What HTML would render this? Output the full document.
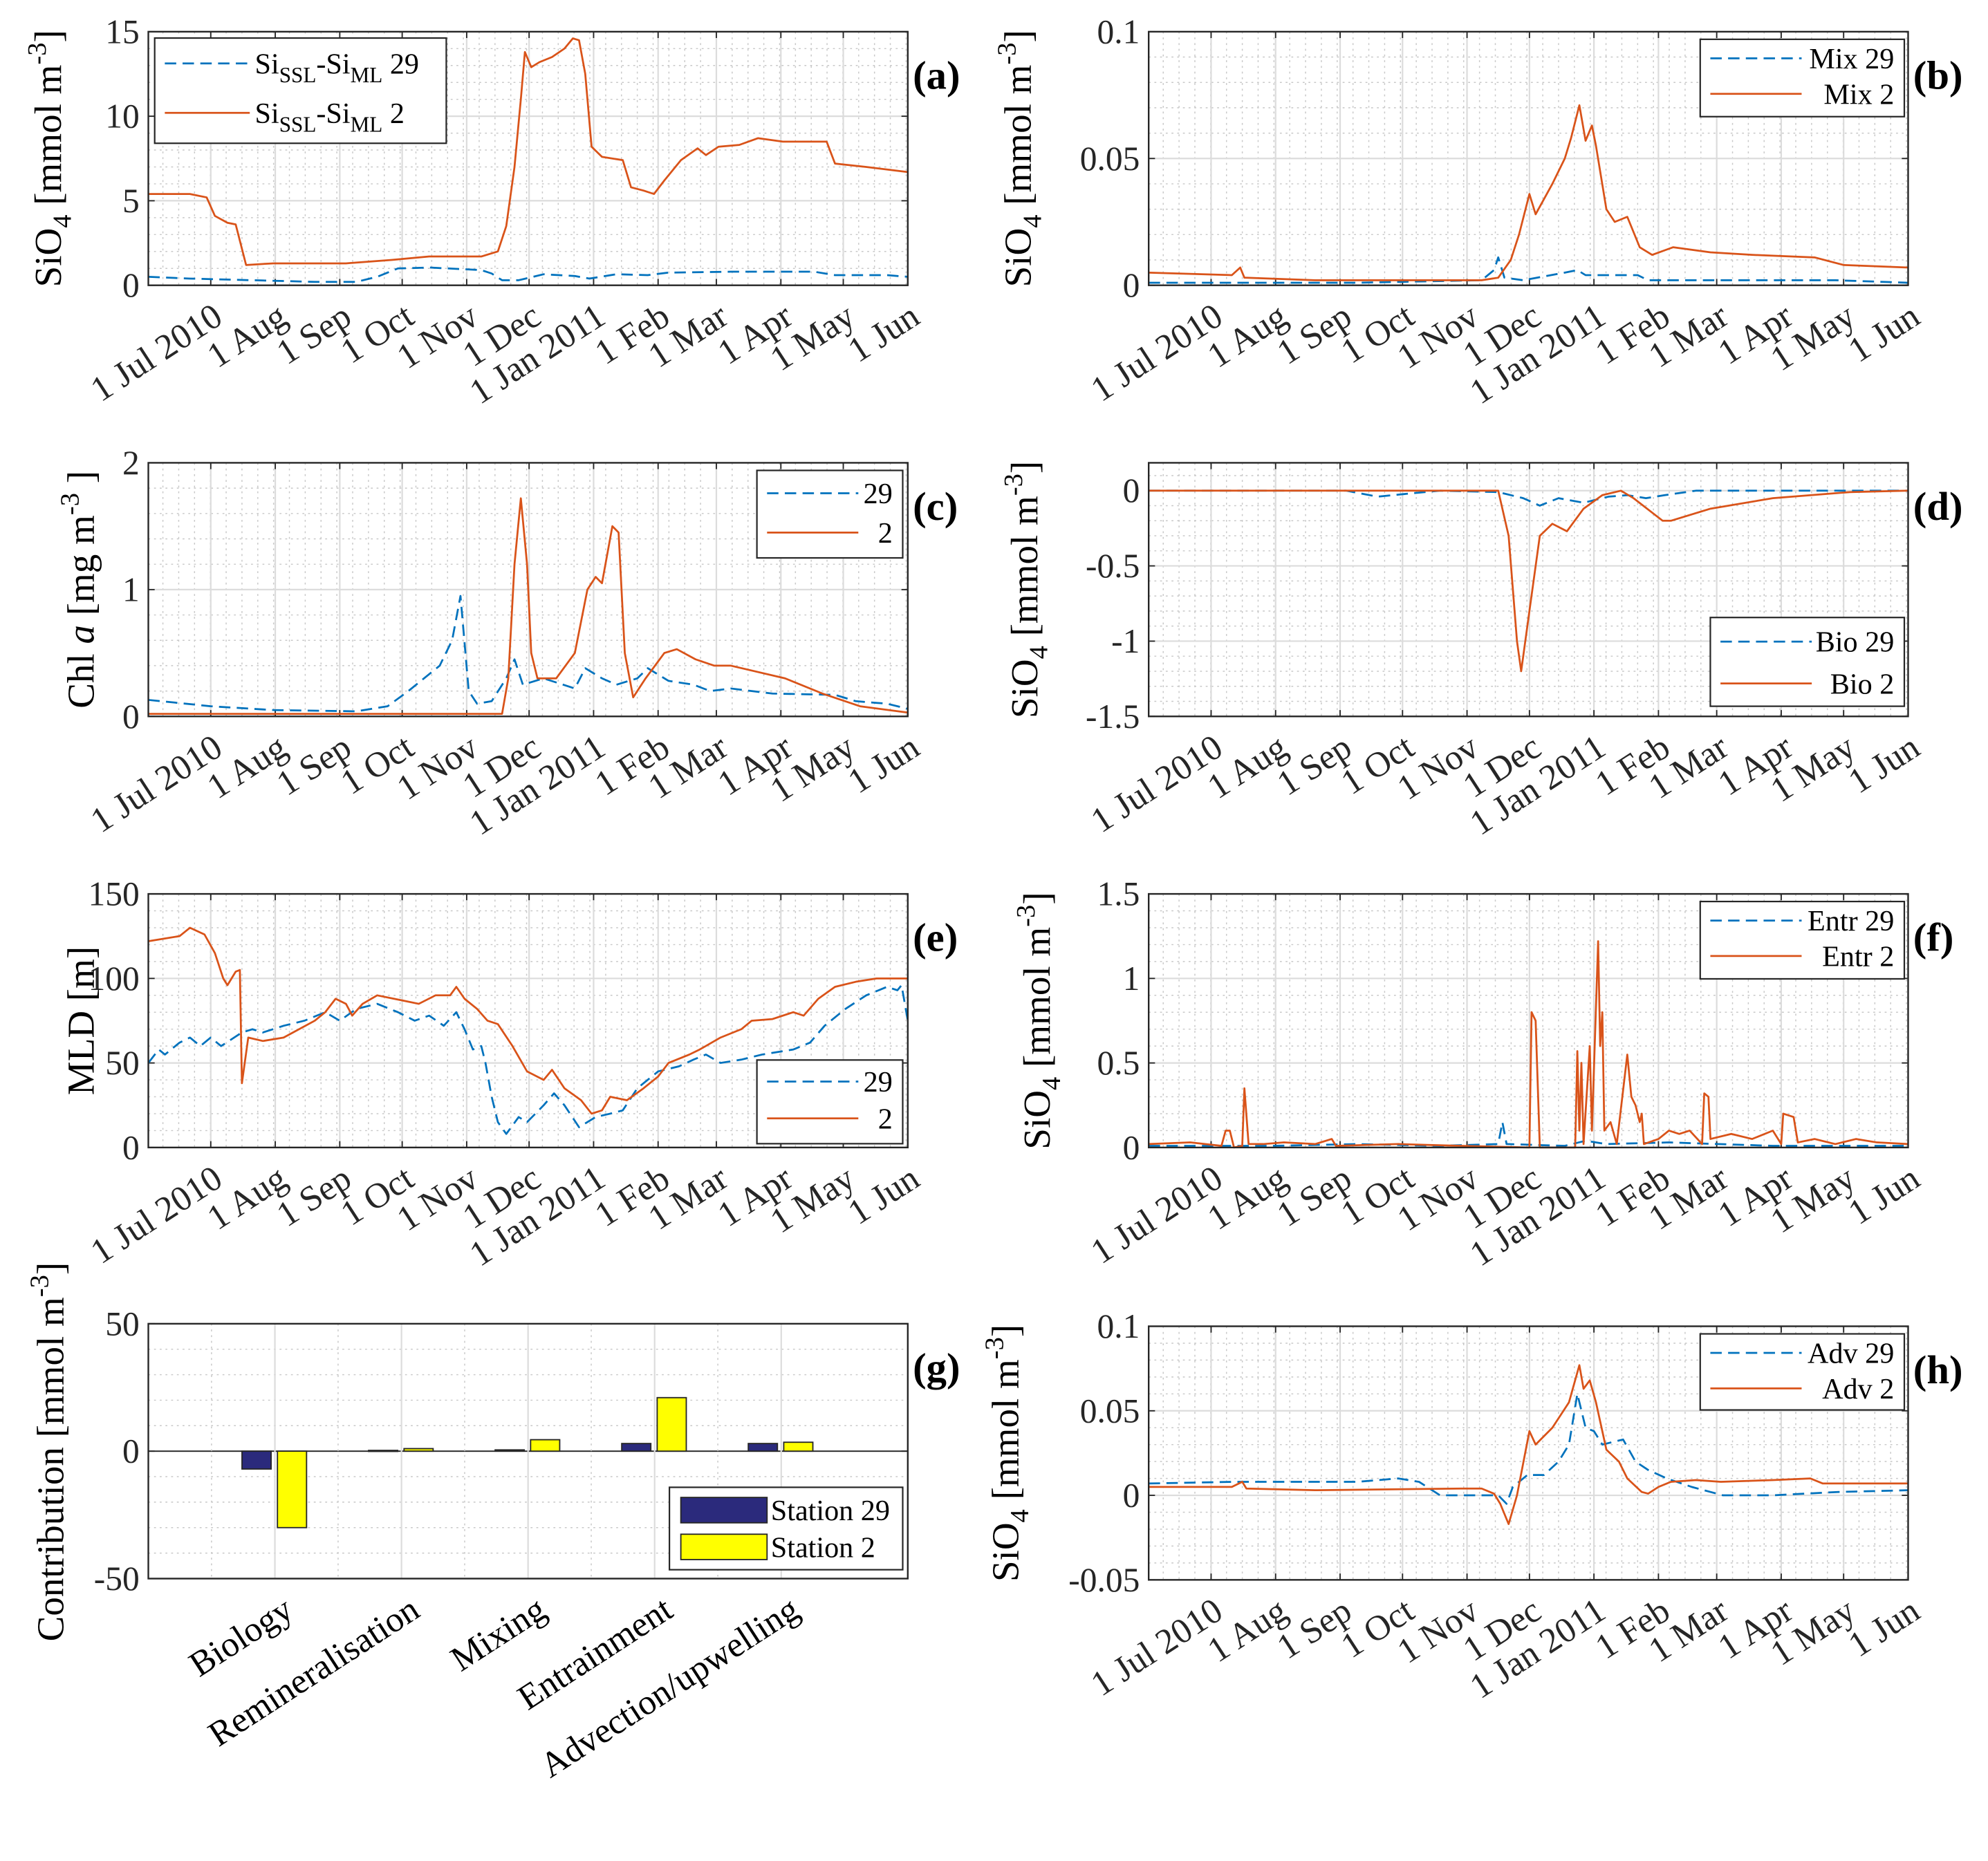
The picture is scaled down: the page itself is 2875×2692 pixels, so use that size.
<!DOCTYPE html>
<html><head><meta charset="utf-8"><style>
html,body{margin:0;padding:0;background:#fff;}
svg, svg text{font-family:"Liberation Serif","DejaVu Serif","Times New Roman",serif;}
</style></head><body>
<svg id="fig" width="2875" height="2687" viewBox="0 0 1568 1465" preserveAspectRatio="none" xmlns="http://www.w3.org/2000/svg"></svg>
<script>
// ---- data ----
const monthTickDays = [30,61,92,122,153,183,214,245,273,304,334,365];
const monthTickLabels = ["1 Jul 2010","1 Aug","1 Sep","1 Oct","1 Nov","1 Dec","1 Jan 2011","1 Feb","1 Mar","1 Apr","1 May","1 Jun"];

const siA29 = [[0,0.5],[20,0.4],[50,0.3],[80,0.2],[100,0.2],[110,0.5],[120,1.0],[135,1.05],[160,0.9],[165,0.7],[170,0.3],[178,0.3],[190,0.65],[205,0.55],[212,0.4],[225,0.65],[240,0.6],[250,0.75],[280,0.8],[320,0.8],[330,0.6],[355,0.6],[365,0.5]];
const siA2 = [[0,5.4],[20,5.4],[28,5.2],[32,4.1],[38,3.7],[42,3.6],[47,1.2],[60,1.3],[80,1.3],[95,1.3],[117,1.5],[135,1.7],[160,1.7],[168,2.0],[172,3.5],[176,7],[179,11],[181,13.8],[184,12.9],[188,13.2],[194,13.5],[200,14.0],[204,14.6],[207,14.5],[210,12.5],[213,8.2],[218,7.6],[228,7.4],[232,5.8],[238,5.6],[243,5.4],[248,6.2],[256,7.4],[264,8.1],[268,7.7],[274,8.2],[284,8.3],[293,8.7],[305,8.5],[326,8.5],[330,7.2],[345,7.0],[365,6.7]];

const mix29 = [[0,0.001],[100,0.001],[160,0.002],[166,0.006],[168,0.011],[171,0.003],[180,0.002],[200,0.005],[206,0.006],[210,0.004],[235,0.004],[240,0.002],[330,0.002],[365,0.001]];
const mix2 = [[0,0.005],[40,0.004],[44,0.007],[46,0.003],[80,0.002],[160,0.002],[168,0.003],[174,0.01],[178,0.02],[183,0.036],[186,0.028],[194,0.04],[200,0.05],[203,0.058],[207,0.071],[210,0.057],[213,0.063],[215,0.055],[220,0.03],[224,0.025],[230,0.027],[236,0.015],[242,0.012],[252,0.015],[270,0.013],[290,0.012],[320,0.011],[334,0.008],[365,0.007]];

const chl29 = [[0,0.13],[30,0.08],[60,0.05],[100,0.04],[115,0.08],[125,0.2],[140,0.4],[146,0.6],[150,0.95],[154,0.2],[158,0.1],[165,0.12],[172,0.3],[176,0.45],[180,0.25],[190,0.3],[205,0.22],[210,0.38],[218,0.3],[225,0.25],[235,0.3],[240,0.38],[250,0.28],[262,0.25],[270,0.2],[280,0.22],[300,0.18],[330,0.17],[340,0.12],[355,0.1],[365,0.06]];
const chl2 = [[0,0.02],[170,0.02],[173,0.3],[176,1.2],[179,1.72],[182,1.2],[184,0.5],[187,0.3],[196,0.3],[205,0.5],[211,1.0],[215,1.1],[218,1.05],[223,1.5],[226,1.45],[229,0.5],[233,0.15],[239,0.3],[248,0.5],[254,0.53],[263,0.45],[272,0.4],[280,0.4],[293,0.35],[306,0.3],[324,0.18],[342,0.08],[365,0.03]];

const bio29 = [[0,0],[95,0],[110,-0.04],[125,-0.02],[140,0],[168,-0.01],[180,-0.05],[188,-0.1],[197,-0.05],[209,-0.08],[221,-0.04],[230,-0.03],[239,-0.05],[248,-0.03],[263,0],[365,0]];
const bio2 = [[0,0],[168,0],[173,-0.3],[177,-1.0],[179,-1.2],[183,-0.8],[188,-0.3],[194,-0.22],[201,-0.27],[209,-0.12],[218,-0.03],[227,0],[233,-0.05],[247,-0.2],[251,-0.2],[270,-0.12],[300,-0.05],[337,-0.01],[365,0]];

const mld29 = [[0,50],[5,58],[8,55],[15,62],[20,65],[25,60],[30,65],[35,60],[45,68],[50,70],[55,68],[65,72],[75,75],[85,80],[92,75],[100,82],[110,85],[120,80],[128,75],[135,78],[142,72],[148,80],[152,70],[156,58],[160,60],[162,50],[165,30],[168,15],[172,8],[178,18],[182,15],[190,25],[195,32],[200,25],[207,12],[215,18],[222,20],[228,22],[235,35],[245,45],[255,48],[262,52],[268,55],[275,50],[285,52],[295,55],[310,58],[318,62],[325,72],[335,82],[345,90],[355,95],[360,93],[362,96],[365,75]];
const mld2 = [[0,122],[15,125],[20,130],[27,126],[32,115],[36,100],[38,96],[42,104],[44,105],[45,38],[48,65],[55,63],[65,65],[80,75],[85,80],[90,88],[95,85],[98,78],[103,85],[110,90],[122,87],[130,85],[138,90],[145,90],[148,95],[152,88],[158,82],[163,75],[168,73],[175,60],[182,45],[190,40],[194,46],[200,35],[208,28],[213,20],[218,22],[222,30],[230,28],[238,35],[245,42],[250,50],[260,55],[265,58],[275,65],[285,70],[290,75],[300,76],[310,80],[315,78],[322,88],[330,95],[340,98],[350,100],[365,100]];

const entr29 = [[0,0.01],[60,0.01],[100,0.02],[140,0.01],[168,0.02],[170,0.15],[172,0.02],[200,0.01],[210,0.04],[220,0.02],[250,0.03],[300,0.01],[365,0.01]];
const entr2 = [[0,0.02],[20,0.03],[35,0.01],[37,0.1],[39,0.1],[41,0],[45,0.01],[46,0.35],[48,0.02],[55,0.02],[65,0.03],[80,0.02],[88,0.05],[90,0.01],[120,0.02],[150,0.01],[183,0],[184,0.8],[186,0.75],[188,0],[205,0],[206,0.57],[207,0.1],[208,0.5],[209,0.02],[212,0.6],[213,0.1],[216,1.22],[217,0.6],[218,0.8],[219,0.1],[222,0.15],[225,0.02],[230,0.55],[232,0.3],[234,0.25],[236,0.15],[237,0.2],[238,0.02],[245,0.05],[250,0.1],[255,0.08],[260,0.1],[266,0.02],[267,0.32],[269,0.3],[270,0.05],[280,0.08],[290,0.05],[300,0.1],[304,0.02],[305,0.2],[310,0.18],[312,0.03],[320,0.05],[330,0.02],[340,0.05],[350,0.03],[365,0.02]];

const adv29 = [[0,0.007],[40,0.008],[100,0.008],[120,0.01],[130,0.008],[140,0],[168,0],[172,-0.005],[175,0.005],[182,0.012],[190,0.012],[197,0.02],[202,0.03],[206,0.06],[210,0.04],[214,0.038],[218,0.03],[228,0.033],[234,0.02],[240,0.015],[249,0.01],[261,0.005],[276,0],[300,0],[331,0.002],[365,0.003]];
const adv2 = [[0,0.005],[40,0.005],[45,0.008],[47,0.004],[80,0.003],[150,0.004],[160,0.004],[166,0.001],[169,-0.005],[173,-0.017],[177,0],[183,0.038],[186,0.03],[194,0.04],[202,0.055],[207,0.077],[209,0.063],[212,0.068],[215,0.055],[220,0.027],[226,0.02],[230,0.01],[237,0.002],[240,0.001],[245,0.005],[251,0.008],[263,0.009],[275,0.008],[300,0.009],[318,0.01],[324,0.007],[365,0.007]];

const barCategories = ["Biology","Remineralisation","Mixing","Entrainment","Advection/upwelling"];
const barStation29 = [-7,0.3,0.5,3,3];
const barStation2 = [-30,1,4.5,21,3.5];

// ---- drawing ----
const svg = document.getElementById('fig');
const NS = 'http://www.w3.org/2000/svg';
const BLUE = '#0072BD', ORANGE = '#D95319';
function mk(tag, attrs, parent){ const e=document.createElementNS(NS,tag); for(const k in attrs) e.setAttribute(k,attrs[k]); (parent||svg).appendChild(e); return e; }

function yLabel(g, x, yc, parts){
  const t = mk('text',{x:x,y:yc,'font-size':30,'text-anchor':'middle',transform:`rotate(-90 ${x} ${yc})`},g);
  
  
  parts.forEach(p=>{ const s=mk('tspan',p.a||{},t); s.textContent=p.t; });
  return t;
}
const siLabel = [{t:'SiO'},{t:'4',a:{'font-size':21,dy:8}},{t:' [mmol m',a:{dy:-8}},{t:'-3',a:{'font-size':21,dy:-12}},{t:']',a:{dy:12}}];

function panel(o){
  const g = mk('g',{});
  
  
  const {x0,x1,y0,y1,ymin,ymax} = o;
  const sx = d => x0 + (d - (o.xmin||0)) / ((o.xmax||365) - (o.xmin||0)) * (x1-x0);
  const sy = v => y1 - (v-ymin)/(ymax-ymin)*(y1-y0);
  mk('rect',{x:x0,y:y0,width:x1-x0,height:y1-y0,fill:'#fff'},g);
  if(o.time){
    for(let d=7; d<365; d+=7.6){ mk('line',{x1:sx(d),x2:sx(d),y1:y0,y2:y1,stroke:'#c8c8c8','stroke-width':0.8,'stroke-dasharray':'1.5 3'},g); }
  }
  for(let v=ymin; v<=ymax+1e-9; v+=o.ymin_step){ mk('line',{x1:x0,x2:x1,y1:sy(v),y2:sy(v),stroke:'#c8c8c8','stroke-width':0.8,'stroke-dasharray':'1.5 3'},g); }
  o.yticks.forEach((v,i)=>{
    const y=sy(v);
    mk('line',{x1:x0,x2:x1,y1:y,y2:y,stroke:'#dcdcdc','stroke-width':1.2},g);
    mk('line',{x1:x0,x2:x0+5,y1:y,y2:y,stroke:'#262626','stroke-width':1},g);
    mk('line',{x1:x1-5,x2:x1,y1:y,y2:y,stroke:'#262626','stroke-width':1},g);
    const t=mk('text',{x:x0-7,y:y+9,'font-size':27,'text-anchor':'end',fill:'#262626'},g);
    
    
    t.textContent=o.ytickLabels[i];
  });
  if(o.time){
    monthTickDays.forEach((d,i)=>{
      const x=sx(d);
      mk('line',{x1:x,x2:x,y1:y0,y2:y1,stroke:'#dcdcdc','stroke-width':1.2},g);
      mk('line',{x1:x,x2:x,y1:y1,y2:y1-5,stroke:'#262626','stroke-width':1},g);
      mk('line',{x1:x,x2:x,y1:y0,y2:y0+5,stroke:'#262626','stroke-width':1},g);
      const tx=x+11, ty=y1+29;
      const t=mk('text',{x:tx,y:ty,'font-size':28,'text-anchor':'end',fill:'#262626',transform:`rotate(-33 ${tx} ${ty})`},g);
      
      
      t.textContent=monthTickLabels[i];
    });
  }
  if(o.zeroLine){ mk('line',{x1:x0,x2:x1,y1:sy(0),y2:sy(0),stroke:'#262626','stroke-width':1},g); }
  (o.series||[]).forEach(s=>{
    const pts=s.data.map(p=>sx(p[0]).toFixed(1)+','+sy(p[1]).toFixed(1)).join(' ');
    const pl=mk('polyline',{points:pts,fill:'none',stroke:s.color,'stroke-width':1.5,'stroke-dasharray':s.dash?'9 5':'none','stroke-linejoin':'round'},g);
    
    
  });
  if(o.bars) o.bars(g,sx,sy);
  mk('rect',{x:x0,y:y0,width:x1-x0,height:y1-y0,fill:'none',stroke:'#262626','stroke-width':1.3},g);
  const pl=mk('text',{x:x1+4,y:y0+45,'font-size':32,'font-weight':'bold'},g);
  
  
  pl.textContent=o.letter;
  if(o.legend){
    const L=o.legend;
    const lg=mk('g',{},g);
    
    
    mk('rect',{x:L.x,y:L.y,width:L.w,height:L.h,fill:'#fff',stroke:'#262626','stroke-width':1.2},lg);
    L.items.forEach((it,i)=>{
      const yy=L.y+L.row0+i*L.dy;
      if(it.swatch){
        mk('rect',{x:L.x+9,y:yy-10,width:68,height:20,fill:it.swatch,stroke:'#262626','stroke-width':1},lg);
      } else {
        mk('line',{x1:L.x+8,x2:L.x+L.lineW,y1:yy,y2:yy,stroke:it.color,'stroke-width':1.5,'stroke-dasharray':it.dash?'9 5':'none'},lg);
      }
      const t=mk('text',{x:it.anchorEnd?L.x+L.w-8:L.x+L.lineW+4,y:yy+8,'font-size':23,'text-anchor':it.anchorEnd?'end':'start'},lg);
      
      
      (it.parts||[{t:it.text}]).forEach(p=>{const s=mk('tspan',p.a||{},t); s.textContent=p.t;});
    });
  }
  return {g,sx,sy};
}

const pa = panel({name:'panel-a',letter:'(a)',time:true,x0:117,x1:716,y0:25,y1:225,ymin:0,ymax:15,ymin_step:1,yticks:[0,5,10,15],ytickLabels:['0','5','10','15'],
  series:[{name:'line-si-29',data:siA29,color:BLUE,dash:true},{name:'line-si-2',data:siA2,color:ORANGE}],
  legend:{x:122,y:30,w:230,h:83,row0:20,dy:39,lineW:75,items:[
    {color:BLUE,dash:true,parts:[{t:'Si'},{t:'SSL',a:{'font-size':17,dy:7}},{t:'-Si',a:{dy:-7}},{t:'ML',a:{'font-size':17,dy:7}},{t:' 29',a:{dy:-7}}]},
    {color:ORANGE,parts:[{t:'Si'},{t:'SSL',a:{'font-size':17,dy:7}},{t:'-Si',a:{dy:-7}},{t:'ML',a:{'font-size':17,dy:7}},{t:' 2',a:{dy:-7}}]}]}});
yLabel(pa.g,48,125,siLabel);

const pb = panel({name:'panel-b',letter:'(b)',time:true,x0:906,x1:1505,y0:25,y1:225,ymin:0,ymax:0.1,ymin_step:0.01,yticks:[0,0.05,0.1],ytickLabels:['0','0.05','0.1'],
  series:[{name:'line-mix-29',data:mix29,color:BLUE,dash:true},{name:'line-mix-2',data:mix2,color:ORANGE}],
  legend:{x:1341,y:31,w:161,h:61,row0:15,dy:28,lineW:80,items:[{color:BLUE,dash:true,text:'Mix 29',anchorEnd:true},{color:ORANGE,text:'Mix 2',anchorEnd:true}]}});
yLabel(pb.g,813,125,siLabel);

const pc = panel({name:'panel-c',letter:'(c)',time:true,x0:117,x1:716,y0:365,y1:565,ymin:0,ymax:2,ymin_step:0.2,yticks:[0,1,2],ytickLabels:['0','1','2'],
  series:[{name:'line-chl-29',data:chl29,color:BLUE,dash:true},{name:'line-chl-2',data:chl2,color:ORANGE}],
  legend:{x:597,y:371,w:115,h:69,row0:18,dy:31,lineW:80,items:[{color:BLUE,dash:true,text:'29',anchorEnd:true},{color:ORANGE,text:'2',anchorEnd:true}]}});
yLabel(pc.g,74,465,[{t:'Chl '},{t:'a',a:{'font-style':'italic'}},{t:' [mg m'},{t:'-3',a:{'font-size':21,dy:-12}},{t:' ]',a:{dy:12}}]);

const pd = panel({name:'panel-d',letter:'(d)',time:true,x0:906,x1:1505,y0:365,y1:565,ymin:-1.5,ymax:0.185,ymin_step:0.1,yticks:[-1.5,-1,-0.5,0],ytickLabels:['-1.5','-1','-0.5','0'],
  series:[{name:'line-bio-29',data:bio29,color:BLUE,dash:true},{name:'line-bio-2',data:bio2,color:ORANGE}],
  legend:{x:1349,y:487,w:153,h:70,row0:19,dy:33,lineW:80,items:[{color:BLUE,dash:true,text:'Bio 29',anchorEnd:true},{color:ORANGE,text:'Bio 2',anchorEnd:true}]}});
yLabel(pd.g,818,465,siLabel);

const pe = panel({name:'panel-e',letter:'(e)',time:true,x0:117,x1:716,y0:705,y1:905,ymin:0,ymax:150,ymin_step:10,yticks:[0,50,100,150],ytickLabels:['0','50','100','150'],
  series:[{name:'line-mld-29',data:mld29,color:BLUE,dash:true},{name:'line-mld-2',data:mld2,color:ORANGE}],
  legend:{x:597,y:836,w:115,h:66,row0:17,dy:29,lineW:80,items:[{color:BLUE,dash:true,text:'29',anchorEnd:true},{color:ORANGE,text:'2',anchorEnd:true}]}});
yLabel(pe.g,74,805,[{t:'MLD [m]'}]);

const pf = panel({name:'panel-f',letter:'(f)',time:true,x0:906,x1:1505,y0:705,y1:905,ymin:0,ymax:1.5,ymin_step:0.1,yticks:[0,0.5,1,1.5],ytickLabels:['0','0.5','1','1.5'],
  series:[{name:'line-entr-29',data:entr29,color:BLUE,dash:true},{name:'line-entr-2',data:entr2,color:ORANGE}],
  legend:{x:1341,y:711,w:161,h:61,row0:15,dy:28,lineW:80,items:[{color:BLUE,dash:true,text:'Entr 29',anchorEnd:true},{color:ORANGE,text:'Entr 2',anchorEnd:true}]}});
yLabel(pf.g,828,805,siLabel);

const pg = panel({name:'panel-g',letter:'(g)',time:false,xmin:0,xmax:6,x0:117,x1:716,y0:1044,y1:1245,ymin:-50,ymax:50,ymin_step:10,yticks:[-50,0,50],ytickLabels:['-50','0','50'],zeroLine:true,
  bars:(g,sx,sy)=>{
    const xs=[1,2,3,4,5];
    for(let k=1;k<=5;k++){ mk('line',{x1:sx(k),x2:sx(k),y1:1044,y2:1245,stroke:'#dcdcdc','stroke-width':1.2},g); mk('line',{x1:sx(k)-50,x2:sx(k)-50,y1:1044,y2:1245,stroke:'#c8c8c8','stroke-width':0.8,'stroke-dasharray':'1.5 3'},g);}
    barCategories.forEach((c,i)=>{
      const cx=xs[i];
      [[barStation29[i],'#2B2A7C',-0.26,'bar-station29-'],[barStation2[i],'#FFFF00',0.02,'bar-station2-']].forEach(b=>{
        const v=b[0]; const xa=sx(cx+b[2]), w=sx(0.23)-sx(0);
        const ya=Math.min(sy(v),sy(0)), h=Math.abs(sy(v)-sy(0));
        const r=mk('rect',{x:xa,y:ya,width:w,height:Math.max(h,0.8),fill:b[1],stroke:'#262626','stroke-width':1},g);
        
        
      });
      const tx=sx(cx)+16, ty=1274;
      const t=mk('text',{x:tx,y:ty,'font-size':28,'text-anchor':'end',transform:`rotate(-33 ${tx} ${ty})`},g);
      
      
      t.textContent=c;
    });
  },
  legend:{x:528,y:1173,w:184,h:65,row0:18,dy:29,lineW:76,items:[{swatch:'#2B2A7C',text:'Station 29'},{swatch:'#FFFF00',text:'Station 2'}]}});
yLabel(pg.g,50,1145,[{t:'Contribution [mmol m'},{t:'-3',a:{'font-size':21,dy:-12}},{t:']',a:{dy:12}}]);

const ph = panel({name:'panel-h',letter:'(h)',time:true,x0:906,x1:1505,y0:1046,y1:1246,ymin:-0.05,ymax:0.1,ymin_step:0.01,yticks:[-0.05,0,0.05,0.1],ytickLabels:['-0.05','0','0.05','0.1'],
  series:[{name:'line-adv-29',data:adv29,color:BLUE,dash:true},{name:'line-adv-2',data:adv2,color:ORANGE}],
  legend:{x:1341,y:1052,w:161,h:60,row0:15,dy:28,lineW:80,items:[{color:BLUE,dash:true,text:'Adv 29',anchorEnd:true},{color:ORANGE,text:'Adv 2',anchorEnd:true}]}});
yLabel(ph.g,803,1146,siLabel);
</script>
</body></html>
